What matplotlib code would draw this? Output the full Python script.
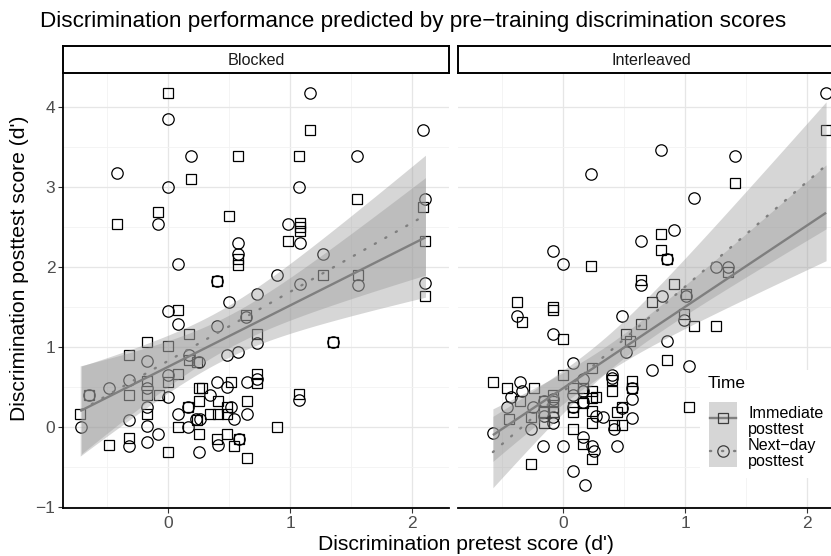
import numpy as np
import matplotlib
matplotlib.use("Agg")
import matplotlib.pyplot as plt
from matplotlib.lines import Line2D
from matplotlib.patches import Rectangle

plt.rcParams['font.family'] = ['Liberation Sans', 'DejaVu Sans']

# ---------------- data ----------------
panels = ["Blocked", "Interleaved"]
legend_title = "Time"
time_labels = ["Immediate\nposttest", "Next\u2212day\nposttest"]

blocked_immediate_x = [0.00, 1.16, 0.57, 1.07, 0.19, 1.55, 2.09, -0.085, -0.42, 0.50, 1.08, 1.08, 1.08,
                       0.98, 2.11, 0.57, 0.57, 1.27, 1.56, 0.40, 2.11, 0.64, 0.08, 0.17, -0.17, 0.00,
                       0.73, 1.35, -0.32, 0.17, 0.24, -0.17, 0.00, 0.08, -0.645, -0.32, -0.17, -0.075,
                       -0.72, -0.17, -0.48, -0.32, 0.00, 0.52, 0.25, 0.28, 0.73, 0.73, 0.41, 0.645,
                       0.16, 0.25, 0.34, 0.41, 0.48, 0.48, 0.24, 0.085, 0.25, 0.89, 1.07, 0.40, 0.48,
                       0.58, 0.54, 0.645]
blocked_immediate_y = [4.18, 3.72, 3.39, 3.39, 3.10, 2.85, 2.75, 2.69, 2.54, 2.64, 2.55, 2.50, 2.45,
                       2.33, 2.33, 2.10, 2.03, 1.90, 1.90, 1.83, 1.64, 1.41, 1.47, 1.17, 1.07, 1.02,
                       1.17, 1.07, 0.90, 0.84, 0.82, 0.58, 0.57, 0.67, 0.41, 0.40, 0.40, 0.40,
                       0.17, 0.17, -0.22, -0.14, -0.31, 0.57, 0.49, 0.49, 0.67, 0.55, 0.33, 0.33,
                       0.26, 0.33, 0.17, 0.17, 0.26, 0.17, 0.09, 0.00, -0.08, 0.00, 0.42, -0.15, -0.08,
                       -0.15, -0.23, -0.39]

blocked_nextday_x = [1.16, 0.00, 2.09, 0.19, 1.55, -0.42, 0.00, 1.07, 2.11, -0.085, 0.98, 1.08, 0.57,
                     0.57, 1.27, 0.08, 0.89, 1.56, 1.08, 0.40, 0.73, 2.11, 0.50, 0.64, 0.00, 0.08,
                     0.40, 0.73, 1.35, -0.17, 0.17, 0.25, 0.48, 0.57, -0.32, 0.00, -0.48, -0.17,
                     0.00, -0.645, -0.71, -0.17, -0.32, -0.17, -0.08, -0.32, -0.17, 0.40, 0.48,
                     0.645, 0.73, 0.34, 0.645, 0.16, 0.085, 0.52, 0.54, 0.23, 0.26, 0.16, 1.07,
                     0.41, 0.58, 0.25]
blocked_nextday_y = [4.18, 3.85, 3.72, 3.39, 3.39, 3.18, 3.01, 3.01, 2.85, 2.54, 2.54, 2.30, 2.30,
                     2.17, 2.17, 2.04, 1.90, 1.78, 1.79, 1.83, 1.67, 1.81, 1.57, 1.38, 1.46, 1.29,
                     1.27, 1.05, 1.07, 0.83, 0.90, 0.82, 0.90, 0.94, 0.59, 0.65, 0.49, 0.49,
                     0.38, 0.41, 0.00, 0.26, 0.09, 0.02, -0.08, -0.23, -0.19, 0.57, 0.50,
                     0.57, 0.61, 0.40, 0.17, 0.26, 0.17, 0.25, 0.10, 0.10, 0.10, 0.00, 0.34,
                     -0.22, -0.15, -0.31]

interleaved_immediate_x = [2.156, 1.41, 0.80, 0.80, 0.855, 0.233, 1.356, 0.636, 0.91, 0.726, 1.008,
                           -0.375, -0.334, -0.08, -0.08, 0.636, 0.99, 1.074, 1.25, 0.00, 0.52, 0.55,
                           0.855, 1.035, 0.00, 0.238, 0.40, 0.565, 0.565, -0.575, -0.46, -0.24, -0.35,
                           -0.08, -0.08, -0.08, -0.08, -0.156, -0.156, -0.26, -0.44, -0.265, 0.08,
                           0.08, 0.08, 0.16, 0.16, 0.238, 0.238, 0.27, 0.238, 0.238, 0.40, 0.44, 0.48,
                           0.48, 0.42, 0.16, 0.238, -0.16, 0.08]
interleaved_immediate_y = [3.72, 3.06, 2.42, 2.22, 2.10, 2.02, 1.94, 1.84, 1.79, 1.57, 1.67,
                           1.57, 1.32, 1.51, 1.47, 1.29, 1.42, 1.27, 1.27, 1.10, 1.17, 1.08,
                           0.84, 0.26, 0.66, 0.74, 0.59, 0.58, 0.49, 0.57, 0.49, 0.49, 0.33,
                           0.41, 0.33, 0.26, 0.19, 0.19, 0.06, 0.13, 0.10, -0.46, 0.19,
                           0.26, -0.02, 0.49, 0.30, 0.45, 0.37, 0.38, 0.21, 0.05, 0.45, 0.19, 0.25,
                           0.03, 0.03, -0.21, -0.40, 0.33, 0.49]

interleaved_nextday_x = [2.156, 0.80, 1.41, 0.233, 1.077, 0.91, 0.636, 0.855, -0.08, 0.00, 1.25, 1.356,
                         0.636, 0.81, 1.008, -0.375, 0.48, 0.99, -0.08, 0.52, 0.855, 0.726, 1.035,
                         0.082, 0.40, 0.40, -0.35, -0.34, -0.43, -0.46, -0.245, -0.156, -0.08, -0.08,
                         -0.08, -0.26, -0.575, -0.164, 0.00, 0.082, 0.184, 0.08, 0.16, 0.16, 0.27,
                         0.33, 0.48, 0.42, 0.565, 0.565, 0.44, 0.16, 0.238, 0.25, 0.08, -0.16, 0.16,
                         0.565]
interleaved_nextday_y = [4.18, 3.47, 3.39, 3.17, 2.87, 2.47, 2.33, 2.10, 2.21, 2.04, 2.00, 2.00,
                         1.78, 1.64, 1.64, 1.39, 1.39, 1.34, 1.17, 0.94, 1.08, 0.72, 0.77,
                         0.81, 0.66, 0.62, 0.57, 0.46, 0.38, 0.26, 0.26, 0.33, 0.36, 0.13,
                         0.06, -0.02, -0.07, -0.23, -0.23, -0.55, -0.72, 0.40, 0.46, 0.61, 0.14,
                         0.13, 0.24, -0.02, 0.36, 0.12, -0.23, -0.12, -0.23, -0.30, 0.26, 0.14, 0.32,
                         0.49]

x_ticks = [0, 1, 2]
y_ticks = [-1, 0, 1, 2, 3, 4]
x_tick_labels = ["0", "1", "2"]
y_tick_labels = ["\u22121", "0", "1", "2", "3", "4"]

# ---------------- styling ----------------
W, H = 831, 556
LINE_COL = "#7f7f7f"
BAND_COL = "#999999"
BAND_ALPHA = 0.4
T95 = 2.0  # t quantile for 95% CI

fig = plt.figure(figsize=(W / 100, H / 100), dpi=100)


def fx(px):
    return px / W


def fy(py):
    return 1 - py / H


panel_left = [63, 458]
panel_w = 386
top, bottom = 73, 508
strip_top = 46

data = {
    "Blocked": [(blocked_immediate_x, blocked_immediate_y), (blocked_nextday_x, blocked_nextday_y)],
    "Interleaved": [(interleaved_immediate_x, interleaved_immediate_y),
                    (interleaved_nextday_x, interleaved_nextday_y)],
}
markers = ["s", "o"]
msizes = [7.6, 8.2]
lstyles = ["-", (0, (0.5, 4.6))]
LW = 1.7

axes = []
for i, name in enumerate(panels):
    ax = fig.add_axes([fx(panel_left[i]), fy(bottom), panel_w / W, (bottom - top) / H])
    axes.append(ax)
    ax.set_xlim(-0.861, 2.303)
    ax.set_ylim(-1.009, 4.43)
    ax.set_xticks(x_ticks)
    ax.set_xticklabels(x_tick_labels)
    ax.set_yticks(y_ticks)
    ax.set_xticks([-0.5, 0.5, 1.5], minor=True)
    ax.set_yticks([-0.5, 0.5, 1.5, 2.5, 3.5], minor=True)
    ax.grid(which="major", color="#e6e6e6", lw=0.9, zorder=0)
    ax.grid(which="minor", color="#f2f2f2", lw=0.6, zorder=0)
    ax.set_axisbelow(True)
    for s in ["top", "right"]:
        ax.spines[s].set_visible(False)
    ax.spines["bottom"].set_color("black")
    ax.spines["bottom"].set_linewidth(1.3)
    ax.tick_params(which="minor", length=0)
    ax.tick_params(axis="x", which="major", length=3.5, width=0.8, color="#333333",
                   labelsize=12.5, labelcolor="#4d4d4d", pad=2)
    if i == 0:
        ax.spines["left"].set_color("black")
        ax.spines["left"].set_linewidth(1.3)
        ax.set_yticklabels(y_tick_labels)
        ax.tick_params(axis="y", which="major", length=3.5, width=0.8, color="#333333",
                       labelsize=12.5, labelcolor="#4d4d4d", pad=2)
    else:
        ax.spines["left"].set_visible(False)
        ax.tick_params(axis="y", which="major", length=0, labelleft=False)

    groups = data[name]
    # points
    for g, (xs, ys) in enumerate(groups):
        ax.plot(xs, ys, ls="none", marker=markers[g], ms=msizes[g], mfc="none",
                mec="black", mew=0.9, zorder=2, clip_on=False)
    # linear smooths with 95% confidence band
    for g, (xs, ys) in enumerate(groups):
        xs = np.asarray(xs, float)
        ys = np.asarray(ys, float)
        n = len(xs)
        b, a = np.polyfit(xs, ys, 1)
        resid = ys - (a + b * xs)
        s = np.sqrt(np.sum(resid ** 2) / (n - 2))
        sxx = np.sum((xs - xs.mean()) ** 2)
        grid = np.linspace(xs.min(), xs.max(), 80)
        yhat = a + b * grid
        se = s * np.sqrt(1.0 / n + (grid - xs.mean()) ** 2 / sxx)
        ax.fill_between(grid, yhat - T95 * se, yhat + T95 * se, color=BAND_COL,
                        alpha=BAND_ALPHA, lw=0, zorder=3)
        ax.plot(grid, yhat, color=LINE_COL, lw=LW, ls=lstyles[g], zorder=4,
                dash_capstyle="round", solid_capstyle="butt")

    # facet strip
    sax = fig.add_axes([fx(panel_left[i]), fy(top), panel_w / W, (top - strip_top) / H])
    sax.set_xticks([])
    sax.set_yticks([])
    sax.set_facecolor("white")
    for sp in sax.spines.values():
        sp.set_linewidth(1.4)
        sp.set_color("black")
    sax.text(0.5, 0.45, name, ha="center", va="center", fontsize=11.6, color="#1a1a1a",
             transform=sax.transAxes)

# titles
fig.text(fx(40), fy(21), "Discrimination performance predicted by pre\u2212training discrimination scores",
         ha="left", va="center", fontsize=16.2, color="black")
fig.text(fx(466), fy(544), "Discrimination pretest score (d')", ha="center", va="center",
         fontsize=15.2, color="black")
fig.text(fx(20), fy(268), "Discrimination posttest score (d')", ha="center", va="center",
         rotation=90, fontsize=15.2, color="black")

# ---------------- legend (inside right panel) ----------------
tf = fig.transFigure
fig.add_artist(Rectangle((fx(700), fy(478)), (840 - 700) / W, (478 - 370) / H,
                         facecolor="white", edgecolor="none", transform=tf, zorder=5))
fig.text(fx(708), fy(384), legend_title, ha="left", va="center", fontsize=12.5,
         color="black", zorder=6)
key_x0, key_x1 = 709, 737
key_top, key_h = 402, 32.5
fig.add_artist(Rectangle((fx(key_x0), fy(key_top + 2 * key_h)), (key_x1 - key_x0) / W,
                         2 * key_h / H, facecolor=BAND_COL, alpha=BAND_ALPHA, edgecolor="none",
                         transform=tf, zorder=6))
for g in range(2):
    yc = key_top + key_h * (g + 0.5)
    fig.add_artist(Line2D([fx(key_x0 + 1), fx(key_x1 - 1)], [fy(yc), fy(yc)], color=LINE_COL,
                          lw=LW, ls=lstyles[g], dash_capstyle="round", transform=tf, zorder=7))
    fig.add_artist(Line2D([fx((key_x0 + key_x1) / 2)], [fy(yc)], ls="none", marker=markers[g],
                          ms=msizes[g], mfc="none", mec="#3d3d3d", mew=0.9, transform=tf,
                          zorder=8))
    fig.text(fx(748), fy(yc + 3), time_labels[g], ha="left", va="center", fontsize=11.6,
             linespacing=1.12, color="black", zorder=8)

fig.savefig("out.png", dpi=100)
